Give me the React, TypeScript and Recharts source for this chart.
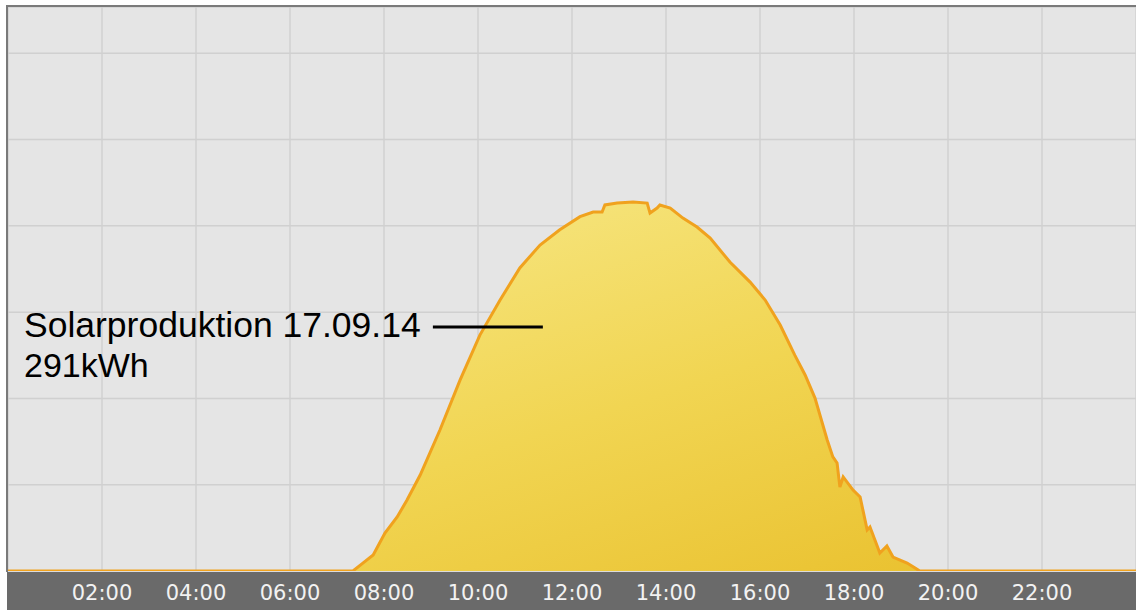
import React from "react";
import { AreaChart, Area, XAxis, YAxis, CartesianGrid, ReferenceLine } from "recharts";

const hours = [
  0, 7.34, 7.55, 7.77, 8.02, 8.28, 8.49, 8.77, 9.19, 9.62, 10.04, 10.47, 10.89, 11.32, 11.74,
  12.17, 12.45, 12.64, 12.7, 12.96, 13.3, 13.6, 13.66, 13.81, 13.87, 14.09, 14.36, 14.66,
  14.94, 15.36, 15.79, 16.11, 16.43, 16.74, 16.96, 17.17, 17.43, 17.55, 17.64, 17.7, 17.77,
  17.98, 18.13, 18.28, 18.34, 18.55, 18.7, 18.83, 19.13, 19.3, 19.4, 24,
];
const powerKw = [
  0, 0, 4.6, 9.3, 22.0, 31.3, 41.1, 55.6, 81.7, 110.7, 136.7, 157.0, 175.6, 188.9, 197.7,
  205.3, 208.0, 208.0, 212.1, 213.2, 213.8, 213.2, 207.4, 210.3, 212.1, 210.3, 204.5, 199.3,
  192.9, 179.0, 167.4, 157.0, 142.5, 125.1, 113.6, 100.2, 75.9, 66.1, 62.6, 48.7, 54.5,
  46.9, 42.9, 23.8, 25.5, 10.4, 14.5, 8.1, 4.6, 1.7, 0, 0,
];
const xTicks = [2, 4, 6, 8, 10, 12, 14, 16, 18, 20, 22];
const yTicks = [50, 100, 150, 200, 250, 300];
const titleLine = "Solarproduktion 17.09.14";
const totalLine = "291kWh";
const pointerStart = { x: 9.04, y: 141.4 };
const pointerEnd = { x: 11.38, y: 141.4 };

const data = hours.map((h, i) => ({ h, p: powerKw[i] }));

const fmt = (h: number) => `${String(h).padStart(2, "0")}:00`;

export default function App() {
  return (
    <div style={{ position: "absolute", left: 0, top: 0, width: 1136, height: 610, background: "#fff", overflow: "hidden" }}>
      <div style={{ position: "absolute", left: 7, top: 572, width: 1129, height: 38, background: "#6a6a6a" }} />
      <div style={{ position: "absolute", left: 0, top: 0 }}>
        <AreaChart width={1136} height={610} data={data} margin={{ top: 7, right: 0, left: 8, bottom: 0 }}>
          <defs>
            <linearGradient id="sunFill" x1="0" y1="0" x2="1" y2="1">
              <stop offset="0%" stopColor="#f9ee98" />
              <stop offset="55%" stopColor="#f1d552" />
              <stop offset="100%" stopColor="#e8bd28" />
            </linearGradient>
          </defs>
          <CartesianGrid fill="#e5e5e5" stroke="#d0d0d0" strokeWidth={1.5} />
          <XAxis
            type="number"
            dataKey="h"
            domain={[0, 24]}
            ticks={xTicks}
            tickFormatter={fmt}
            axisLine={false}
            tickLine={false}
            tickSize={6}
            tickMargin={8}
            height={39}
            tick={{ fill: "#f2f2f2", fontSize: 21, fontFamily: "DejaVu Sans" }}
          />
          <YAxis hide type="number" domain={[0, 326.8]} ticks={yTicks} allowDataOverflow />
          <Area
            type="linear"
            dataKey="p"
            stroke="#f0a21e"
            strokeWidth={3}
            fill="url(#sunFill)"
            fillOpacity={1}
            isAnimationActive={false}
            dot={false}
            activeDot={false}
          />
          <ReferenceLine segment={[pointerStart, pointerEnd]} stroke="#000" strokeWidth={3} />
        </AreaChart>
      </div>
      <div style={{ position: "absolute", left: 6, top: 5, width: 1130, height: 2, background: "#7a7a7a" }} />
      <div style={{ position: "absolute", left: 6, top: 5, width: 2, height: 567, background: "#7a7a7a" }} />
      <div
        style={{
          position: "absolute",
          left: 24,
          top: 305,
          fontFamily: "'Liberation Sans', Arial, sans-serif",
          lineHeight: "40px",
          color: "#000",
          whiteSpace: "pre",
        }}
      >
        <div style={{ fontSize: 35.5 }}>{titleLine}</div>
        <div style={{ fontSize: 34 }}>{totalLine}</div>
      </div>
    </div>
  );
}
